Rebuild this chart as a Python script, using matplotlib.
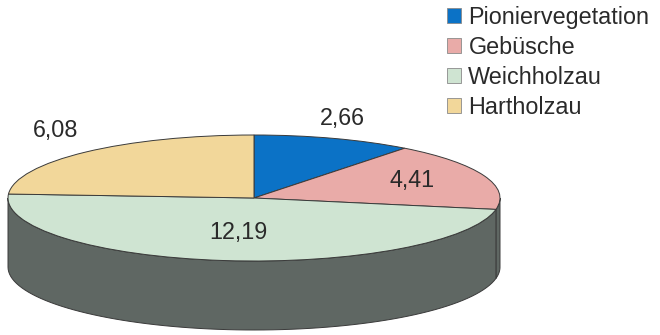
import numpy as np
import matplotlib.pyplot as plt
from matplotlib.patches import Wedge, Polygon, Patch
from matplotlib.transforms import Affine2D

# --- Data ---
categories = ["Pioniervegetation", "Gebüsche", "Weichholzau", "Hartholzau"]
values = [2.66, 4.41, 12.19, 6.08]
value_labels = ["2,66", "4,41", "12,19", "6,08"]
colors = ["#0b72c6", "#e9aba8", "#cfe4d2", "#f2d79a"]

SIDE_COLOR = "#5f6763"
EDGE_COLOR = "#3a3a3a"

# pie geometry (pixel-like units, y up)
W, H = 660, 335
cx, cy = 254, H - 198
rx, ry = 246, 63
depth = 69

# label anchor points
label_pos = [(342, 118), (412, 180), (238, 232), (56, 131)]

plt.rcParams["font.family"] = ["Liberation Sans", "DejaVu Sans"]
FS = 16.8

fig = plt.figure(figsize=(6.6, 3.35), dpi=100)
ax = fig.add_axes([0, 0, 1, 1])
ax.set_xlim(0, W)
ax.set_ylim(0, H)
ax.axis("off")

# slice angles: start at 12 o'clock, go clockwise
frac = np.array(values) / np.sum(values)
ends = 90 - 360 * np.cumsum(frac)
starts = np.concatenate([[90], ends[:-1]])

to_ellipse = Affine2D().scale(rx, ry).translate(cx, cy)


def ell(t):
    t = np.radians(t)
    return np.column_stack([cx + rx * np.cos(t), cy + ry * np.sin(t)])


# side walls: only the front half (angles between -180 and 0) is visible
for s, e in zip(starts, ends):
    lo, hi = max(e, -180), min(s, 0)
    if lo >= hi:
        continue
    t = np.linspace(hi, lo, 80)
    top = ell(t)
    bot = top - [0, depth]
    poly = np.vstack([top, bot[::-1]])
    ax.add_patch(Polygon(poly, closed=True, facecolor=SIDE_COLOR,
                         edgecolor=EDGE_COLOR, lw=0.7, zorder=1))

# top face
for s, e, c in zip(starts, ends, colors):
    w = Wedge((0, 0), 1, e, s, facecolor=c, edgecolor=EDGE_COLOR, lw=0.7,
              transform=to_ellipse + ax.transData, zorder=2)
    ax.add_patch(w)

for txt, (px, py) in zip(value_labels, label_pos):
    ax.text(px, H - py, txt, ha="center", va="center", fontsize=FS,
            color="#2a2a2a", zorder=3)

handles = [Patch(facecolor=c, edgecolor="#8a8a8a", lw=0.6) for c in colors]
ax.legend(handles, categories, loc="upper left", bbox_to_anchor=(0.663, 1.01),
          frameon=False, fontsize=FS, handlelength=0.62, handleheight=0.62,
          handletextpad=0.3, labelspacing=0.3, borderaxespad=0,
          labelcolor="#2a2a2a")

fig.savefig("out.png", dpi=100, facecolor="white")
